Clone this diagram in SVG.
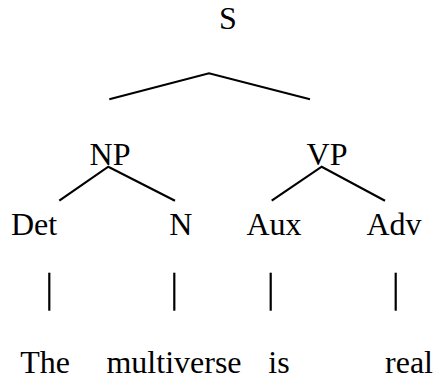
<svg xmlns="http://www.w3.org/2000/svg" width="434" height="379" viewBox="0 0 434 379">
<style>
text{font-family:'Liberation Serif','Times New Roman','DejaVu Serif',serif;font-size:32px;fill:#000;text-anchor:middle}
.e{stroke:#000;stroke-width:2.2;fill:none}
</style>
<rect width="434" height="379" fill="#fff"/>
<g id="connectors">
<polyline class="e" points="109.3,99.3 209,73.3 310,99.3"/>
<polyline class="e" points="59.3,200.7 108.3,166.7 175,200.7"/>
<polyline class="e" points="271.7,200.7 321.7,166.7 385,200.7"/>
<line class="e" x1="49.3" y1="272.7" x2="49.3" y2="310.7"/>
<line class="e" x1="174.3" y1="272.7" x2="174.3" y2="310.7"/>
<line class="e" x1="270.7" y1="272.7" x2="270.7" y2="310.7"/>
<line class="e" x1="395.7" y1="272.7" x2="395.7" y2="310.7"/>
</g>
<g id="S"><text x="228" y="29">S</text></g>
<g id="NP"><text x="110" y="165">NP</text></g>
<g id="VP"><text x="327" y="165">VP</text></g>
<g id="Det"><text x="34" y="235">Det</text></g>
<g id="N"><text x="180.7" y="235">N</text></g>
<g id="Aux"><text x="274" y="235">Aux</text></g>
<g id="Adv"><text x="394" y="235">Adv</text></g>
<g id="The"><text x="45" y="372.7">The</text></g>
<g id="multiverse"><text x="174" y="372.7">multiverse</text></g>
<g id="is"><text x="279" y="372.7">is</text></g>
<g id="real"><text x="409" y="372.7">real</text></g>
</svg>
